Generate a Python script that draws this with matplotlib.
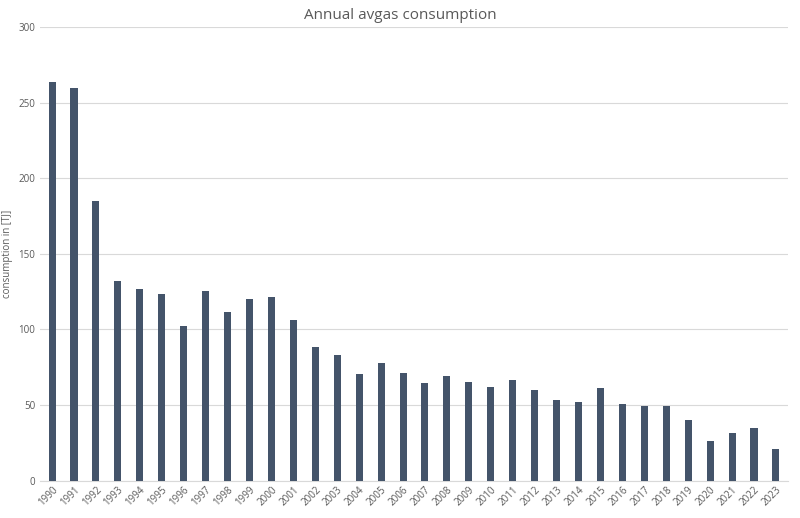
import matplotlib
matplotlib.use("Agg")
import matplotlib.pyplot as plt

years = [str(y) for y in range(1990, 2024)]
values = [263.7, 259.7, 185, 132, 127, 123.6, 102.4, 125.6, 111.7, 120.3, 121.6, 106.4,
          88.5, 83.3, 70.7, 78, 71.4, 64.8, 69.4, 65.4, 62.1, 66.7, 60.1, 53.5, 52.2,
          61.5, 50.9, 49.6, 49.6, 40.3, 26.4, 31.7, 35, 21.1]

plt.rcParams["font.family"] = "Open Sans"
fig = plt.figure(figsize=(8, 5.18), dpi=100)
ax = fig.add_axes([0.05, 0.072, 0.935, 0.876])
x = range(len(years))
ax.bar(x, values, width=0.32, color="#44546A", zorder=3)
ax.set_xlim(-0.55, len(years) - 0.45)
ax.set_ylim(0, 300)
ax.set_yticks(range(0, 301, 50))
ax.set_xticks(list(x))
ax.set_xticklabels(years, rotation=45, ha="right", rotation_mode="anchor", fontsize=7, color="#595959")
ax.tick_params(axis="y", labelsize=7, labelcolor="#595959", length=0)
ax.tick_params(axis="x", length=0, pad=3)
ax.grid(axis="y", color="#D9D9D9", linewidth=0.8, zorder=0)
for s in ["top", "right", "left"]:
    ax.spines[s].set_visible(False)
ax.spines["bottom"].set_color("#D9D9D9")
ax.set_ylabel("consumption in [TJ]", fontsize=7, color="#595959", labelpad=4)
fig.text(0.5, 0.97, "Annual avgas consumption", ha="center", va="center", fontsize=11, color="#595959")
fig.savefig("out.png", dpi=100)
